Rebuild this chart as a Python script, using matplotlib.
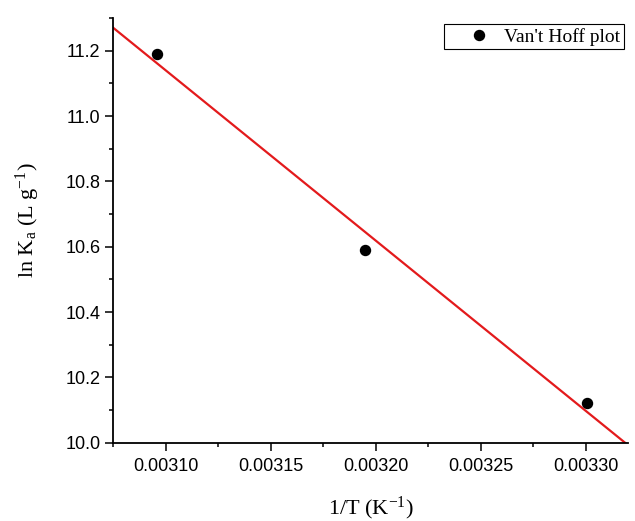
import numpy as np
import matplotlib
matplotlib.use("Agg")
import matplotlib.pyplot as plt
from matplotlib.ticker import MultipleLocator, AutoMinorLocator, FormatStrFormatter

# Van't Hoff data: inverse temperature vs ln Ka
inv_T = [0.003096, 0.0031949, 0.0033003]
ln_Ka = [11.19, 10.589, 10.123]
series_label = "Van't Hoff plot"

plt.rcParams['mathtext.fontset'] = 'custom'
plt.rcParams['mathtext.rm'] = 'Liberation Serif'
plt.rcParams['mathtext.it'] = 'Liberation Serif:italic'

fig = plt.figure(figsize=(6.35, 5.21), dpi=100)
ax = fig.add_axes([0.178, 0.150, 0.811, 0.8155])

ax.plot(inv_T, ln_Ka, 'o', color='black', markersize=7.2, label=series_label, zorder=3)

# Linear least-squares fit across the full x range
slope, intercept = np.polyfit(inv_T, ln_Ka, 1)
xlim = (0.003075, 0.00332)
xf = np.array(xlim)
ax.plot(xf, slope * xf + intercept, color='#e31a1c', linewidth=1.6, zorder=2)

ax.set_xlim(*xlim)
ax.set_ylim(10.0, 11.3)

ax.xaxis.set_major_locator(MultipleLocator(0.00005))
ax.xaxis.set_minor_locator(AutoMinorLocator(2))
ax.yaxis.set_major_locator(MultipleLocator(0.2))
ax.yaxis.set_minor_locator(AutoMinorLocator(2))
ax.xaxis.set_major_formatter(FormatStrFormatter('%.5f'))
ax.yaxis.set_major_formatter(FormatStrFormatter('%.1f'))

for side in ('top', 'right'):
    ax.spines[side].set_visible(False)
for side in ('left', 'bottom'):
    ax.spines[side].set_linewidth(1.3)

ax.tick_params(which='major', direction='out', length=6, width=1.1,
               labelsize=13, pad=3)
ax.tick_params(axis='x', which='major', pad=5)
ax.tick_params(which='minor', direction='out', length=3, width=1.1)
for lbl in ax.get_xticklabels() + ax.get_yticklabels():
    lbl.set_fontfamily('Liberation Sans')

ax.set_xlabel(r'1/T (K$^{\mathrm{-1}}$)', fontfamily='Liberation Serif',
              fontsize=16, labelpad=14)
ax.set_ylabel(r'ln K$_{\mathrm{a}}$ (L g$^{\mathrm{-1}}$)', fontfamily='Liberation Serif',
              fontsize=16)
ax.yaxis.set_label_coords(-0.138, 0.525)

leg = ax.legend(loc='upper right', bbox_to_anchor=(1.003, 1.0), frameon=True,
                fancybox=False, edgecolor='black', framealpha=1,
                prop={'family': 'Liberation Serif', 'size': 14},
                handletextpad=-0.35, borderpad=0.2, handlelength=3.2,
                borderaxespad=0.3)
leg.get_frame().set_linewidth(0.8)

fig.savefig('out.png', dpi=100)
